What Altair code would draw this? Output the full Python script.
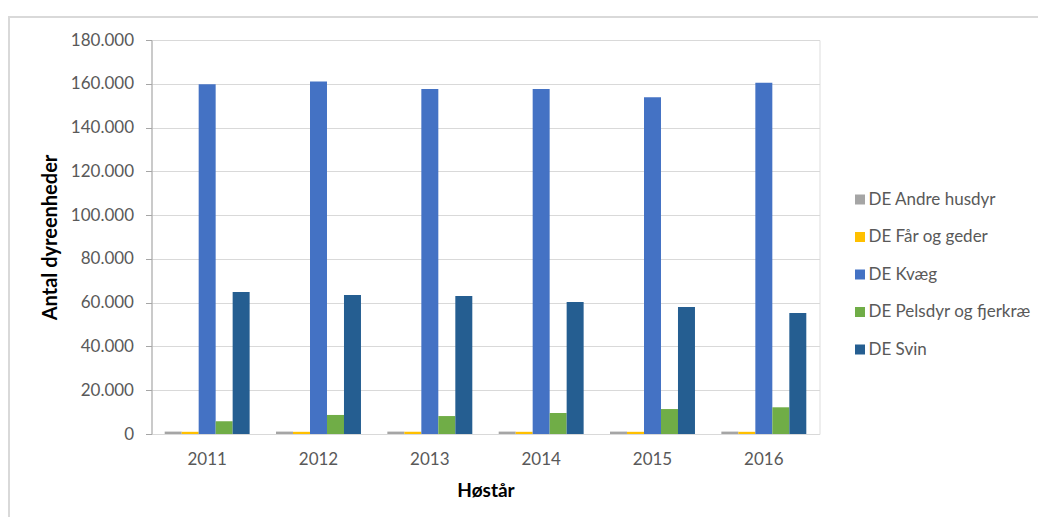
import altair as alt
import pandas as pd

years = ["2011", "2012", "2013", "2014", "2015", "2016"]
series = ["DE Andre husdyr", "DE Får og geder", "DE Kvæg", "DE Pelsdyr og fjerkræ", "DE Svin"]
colors = ["#A5A5A5", "#FFC000", "#4472C4", "#70AD47", "#255E91"]

andre = [1100, 1100, 1100, 1100, 1100, 1100]
faar = [1000, 1000, 1000, 1000, 1000, 1000]
kvaeg = [159800, 161000, 157600, 157600, 153800, 160500]
pels = [5800, 8700, 8200, 9600, 11400, 12200]
svin = [64900, 63500, 63000, 60300, 58000, 55300]

values = [andre, faar, kvaeg, pels, svin]
rows = []
for s, vals in zip(series, values):
    for y, v in zip(years, vals):
        rows.append({"year": y, "series": s, "value": v})
df = pd.DataFrame(rows)

FONT = "Lato"
W, H = 668, 394

bars = alt.Chart(df).mark_bar().encode(
    x=alt.X("year:N", sort=years,
            scale=alt.Scale(paddingInner=0.237, paddingOuter=0.1185),
            axis=alt.Axis(title="Høstår", labelAngle=0, ticks=False,
                          domainColor="#d9d9d9", domainWidth=1,
                          labelColor="#595959", labelFontSize=17, labelFont=FONT,
                          labelPadding=17, titleFont=FONT, titleFontSize=19,
                          titleFontWeight="bold", titleColor="#000000",
                          titlePadding=14, grid=False)),
    xOffset=alt.XOffset("series:N", sort=series, scale=alt.Scale(paddingInner=0, paddingOuter=0)),
    y=alt.Y("value:Q",
            scale=alt.Scale(domain=[0, 180000], nice=False),
            axis=alt.Axis(title="Antal dyreenheder", values=list(range(0, 180001, 20000)),
                          labelExpr="replace(format(datum.value, ','), ',', '.')",
                          domainColor="#a6a6a6", tickColor="#a6a6a6", tickSize=6,
                          labelColor="#595959", labelFontSize=17, labelFont=FONT,
                          labelPadding=12, gridColor="#d9d9d9", gridWidth=1,
                          titleFont=FONT, titleFontSize=20, titleFontWeight="bold",
                          titleColor="#000000", titlePadding=10)),
    color=alt.Color("series:N", sort=series,
                    scale=alt.Scale(domain=series, range=colors),
                    legend=alt.Legend(title=None, orient="none", legendX=700, legendY=151,
                                      symbolType="square", symbolSize=100, symbolStrokeWidth=0,
                                      labelFont=FONT, labelFontSize=17, labelColor="#595959",
                                      labelLimit=0, rowPadding=19.5, labelOffset=0, padding=0)),
)

frame = alt.Chart(alt.Data(values=[{"a": 1}])).mark_rect(
    fill=None, stroke="#d9d9d9", strokeWidth=2
).encode(
    x=alt.value(-142.5), x2=alt.value(W + 400),
    y=alt.value(-23), y2=alt.value(H + 300),
)

chart = alt.layer(frame, bars).properties(
    width=W, height=H,
    autosize=alt.AutoSizeParams(type="none"),
    padding={"left": 143.5, "top": 32, "right": 218, "bottom": 83},
).configure_view(stroke=None).configure(background="white")

chart.save("out.html", embed_options={"renderer": "svg", "actions": False})
